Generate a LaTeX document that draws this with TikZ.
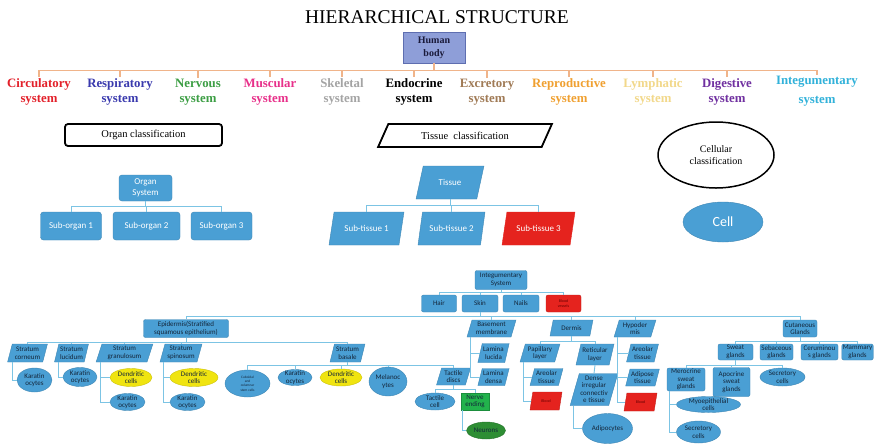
\documentclass[tikz,border=0pt]{standalone}
\usepackage{fontspec}
\setmainfont{Liberation Serif}
\newfontfamily\calibri{Carlito}
\usetikzlibrary{positioning,shapes.geometric}
\definecolor{bodyfill}{HTML}{8E9ED8}
\definecolor{bodyedge}{HTML}{5E6EB0}
\definecolor{bodytext}{HTML}{1A1A3A}
\definecolor{sysorange}{HTML}{F0B48A}
\definecolor{syscirc}{HTML}{E3202A}
\definecolor{sysresp}{HTML}{3A3AAE}
\definecolor{sysnerv}{HTML}{3C9E44}
\definecolor{sysmusc}{HTML}{E8308A}
\definecolor{sysskel}{HTML}{A4A4A4}
\definecolor{sysexcr}{HTML}{A07A55}
\definecolor{sysrepr}{HTML}{F0A030}
\definecolor{syslymp}{HTML}{F2D88A}
\definecolor{sysdige}{HTML}{7030A0}
\definecolor{sysinte}{HTML}{32B2DA}
\definecolor{cellblue}{HTML}{4A9FD4}
\definecolor{linkblue}{HTML}{7CC4E4}
\definecolor{cellred}{HTML}{E5231E}
\definecolor{dendyellow}{HTML}{F0E410}
\definecolor{nervegreen}{HTML}{22B24C}
\definecolor{neurgreen}{HTML}{2E8E34}
\definecolor{leaftext}{HTML}{14263A}

\begin{document}
\begin{tikzpicture}[x=1pt, y=-1pt,
  sysname/.style={font=\bfseries\fontsize{12.8}{15}\selectfont, align=center, inner sep=1pt},
  sysline/.style={draw=sysorange, line width=1.4pt},
  bodybox/.style={fill=bodyfill, draw=bodyedge, line width=0.8pt, align=center, text=bodytext, font=\bfseries\fontsize{10}{13}\selectfont},
  headbox/.style={draw=black, line width=1.8pt, align=center, font=\fontsize{10.5}{12}\selectfont},
  bigbox/.style={fill=cellblue, draw=cellblue!85!black, rounded corners=3pt, align=center, text=white, font=\calibri\fontsize{9}{10.5}\selectfont},
  bigpar/.style={bigbox, sharp corners, trapezium, trapezium left angle=73, trapezium right angle=107, trapezium stretches=true},
  leaf/.style={fill=cellblue, draw=cellblue!85!black, rounded corners=2pt, align=center, text=leaftext, font=\calibri\fontsize{7}{7.5}\selectfont, inner xsep=1pt, inner ysep=0.5pt},
  leafpar/.style={leaf, sharp corners, trapezium, trapezium left angle=72, trapezium right angle=108, trapezium stretches=true},
  leafell/.style={leaf, ellipse, inner xsep=0pt, inner ysep=-2pt},
  redpar/.style={leafpar, fill=cellred, draw=cellred!85!black, text=red!40!black, font=\calibri\fontsize{4}{5}\selectfont},
  yell/.style={leafell, fill=dendyellow, draw=dendyellow!85!black},
  link/.style={draw=linkblue, line width=0.9pt}
]
\fill[white] (0,0) rectangle (874,445);
\useasboundingbox (0,0) rectangle (874,445);

% top level
\node[font=\fontsize{19.5}{22}\selectfont] (title) at (437,17.5) {HIERARCHICAL STRUCTURE};
\node[bodybox, minimum width=62, minimum height=31] (body) at (434,47.5) {Human\\body};

\node[sysname, text=syscirc] (circ) at (39,92) {Circulatory\\system};
\node[sysname, text=sysresp] (resp) at (120,92) {Respiratory\\system};
\node[sysname, text=sysnerv] (nerv) at (198,92) {Nervous\\system};
\node[sysname, text=sysmusc] (musc) at (270,92) {Muscular\\system};
\node[sysname, text=sysskel] (skel) at (342,92) {Skeletal\\system};
\node[sysname, text=black] (endo) at (414,92) {Endocrine\\system};
\node[sysname, text=sysexcr] (excr) at (487,92) {Excretory\\system};
\node[sysname, text=sysrepr] (repr) at (569,92) {Reproductive\\system};
\node[sysname, text=syslymp] (lymp) at (653,92) {Lymphatic\\system};
\node[sysname, text=sysdige] (dige) at (727,92) {Digestive\\system};
\node[sysname, text=sysinte, font=\bfseries\fontsize{12.8}{19}\selectfont] (inte) at (817,91) {Integumentary\\system};

\draw[sysline] (body.south) -- ++(0,7) -| (circ.north);
\draw[sysline] (body.south) -- ++(0,7) -| (resp.north);
\draw[sysline] (body.south) -- ++(0,7) -| (nerv.north);
\draw[sysline] (body.south) -- ++(0,7) -| (musc.north);
\draw[sysline] (body.south) -- ++(0,7) -| (skel.north);
\draw[sysline] (body.south) -- ++(0,7) -| (endo.north);
\draw[sysline] (body.south) -- ++(0,7) -| (excr.north);
\draw[sysline] (body.south) -- ++(0,7) -| (repr.north);
\draw[sysline] (body.south) -- ++(0,7) -| (lymp.north);
\draw[sysline] (body.south) -- ++(0,7) -| (dige.north);
\draw[sysline] (body.south) -- ++(0,7) -| (inte.north);

% three ways of classifying
\node[headbox, rounded corners=3pt, minimum width=157, minimum height=22] (organcls) at (143.5,135) {Organ classification};
\node[headbox, trapezium, trapezium left angle=66, trapezium right angle=114, trapezium stretches=true, minimum width=174, minimum height=23] (tissuecls) at (465,135.5) {Tissue\ \ classification};
\node[headbox, ellipse, line width=1.5pt, minimum width=116, minimum height=66, font=\fontsize{10}{12}\selectfont] (cellcls) at (716,155) {Cellular\\classification};

\node[bigbox, minimum width=53, minimum height=26] (orgsys) at (145.5,188) {Organ\\System};
\node[bigbox, minimum width=61, minimum height=28] (sorg1) at (71,226) {Sub-organ 1};
\node[bigbox, minimum width=67, minimum height=28] (sorg2) at (146.5,226) {Sub-organ 2};
\node[bigbox, minimum width=61, minimum height=28] (sorg3) at (221.5,226) {Sub-organ 3};
\draw[link] (orgsys.south) -- ++(0,5) -| (sorg1.north);
\draw[link] (orgsys.south) -- ++(0,5) -| (sorg2.north);
\draw[link] (orgsys.south) -- ++(0,5) -| (sorg3.north);

\node[bigpar, minimum width=68, minimum height=33] (tissue) at (450,182.5) {Tissue};
\node[bigpar, minimum width=75, minimum height=33] (stis1) at (366.5,228.5) {Sub-tissue 1};
\node[bigpar, minimum width=67, minimum height=33] (stis2) at (451.5,228.5) {Sub-tissue 2};
\node[bigpar, fill=cellred, draw=cellred, minimum width=73, minimum height=33] (stis3) at (538.5,228.5) {Sub-tissue 3};
\draw[link] (tissue.south) -- ++(0,6) -| (stis1.north);
\draw[link] (tissue.south) -- ++(0,6) -| (stis2.north);
\draw[link] (tissue.south) -- ++(0,6) -| (stis3.north);

\node[bigbox, ellipse, minimum width=80, minimum height=40, font=\calibri\fontsize{14}{16}\selectfont] (cell) at (723,222) {Cell};

% integumentary system tree
\node[leaf, minimum width=52, minimum height=19] (integ) at (501,280) {Integumentary\\System};
\node[leaf, minimum width=35, minimum height=17] (hair) at (439,303.5) {Hair};
\node[leaf, minimum width=36, minimum height=17] (skin) at (480,303.5) {Skin};
\node[leaf, minimum width=36, minimum height=17] (nails) at (521,303.5) {Nails};
\node[leaf, fill=cellred, draw=cellred!85!black, text=red!40!black, font=\calibri\fontsize{4}{5}\selectfont, minimum width=35, minimum height=17] (vessel) at (563.5,303.5) {Blood\\vessels};
\draw[link] (integ.south) -- ++(0,2.5) -| (hair.north);
\draw[link] (integ.south) -- ++(0,2.5) -| (skin.north);
\draw[link] (integ.south) -- ++(0,2.5) -| (nails.north);
\draw[link] (integ.south) -- ++(0,2.5) -| (vessel.north);

\node[leaf, minimum width=85, minimum height=18] (epi) at (186,328.5) {Epidermis(Stratified\\squamous epithelium)};
\node[leafpar, minimum width=49, minimum height=17] (basem) at (491.5,328.5) {Basement\\membrane};
\node[leafpar, minimum width=43, minimum height=16] (dermis) at (571.5,328) {Dermis};
\node[leafpar, minimum width=42, minimum height=17] (hypo) at (635,328.5) {Hypoder\\mis};
\node[leaf, minimum width=34, minimum height=17] (glands) at (800,328.5) {Cutaneous\\Glands};
\draw[link] (skin.south) -- ++(0,4.5) -| (epi.north);
\draw[link] (skin.south) -- ++(0,4.5) -| (basem.north);
\draw[link] (skin.south) -- ++(0,4.5) -| (dermis.north);
\draw[link] (skin.south) -- ++(0,4.5) -| (hypo.north);
\draw[link] (skin.south) -- ++(0,4.5) -| (glands.north);

% epidermis layers
\node[leafpar, minimum width=40, minimum height=18] (corn) at (27.5,353) {Stratum\\corneum};
\node[leafpar, minimum width=34, minimum height=18] (luci) at (71.5,353) {Stratum\\lucidum};
\node[leafpar, minimum width=57, minimum height=18] (gran) at (124.5,353) {Stratum\\granulosum};
\node[leafpar, minimum width=42, minimum height=18] (spin) at (181,353) {Stratum\\spinosum};
\node[leafpar, minimum width=35, minimum height=18] (basal) at (347.5,353) {Stratum\\basale};
\draw[link] (epi.south) -- ++(0,4.5) -| (corn.north);
\draw[link] (epi.south) -- ++(0,4.5) -| (luci.north);
\draw[link] (epi.south) -- ++(0,4.5) -| (gran.north);
\draw[link] (epi.south) -- ++(0,4.5) -| (spin.north);
\draw[link] (epi.south) -- ++(0,4.5) -| (basal.north);

\node[leafell, minimum width=35, minimum height=24] (kera1) at (34.5,380) {Karatin\\ocytes};
\node[leafell, minimum width=34, minimum height=19] (kera2) at (80,377) {Karatin\\ocytes};
\node[yell, minimum width=42, minimum height=18] (dend1) at (131,377.5) {Dendritic\\cells};
\node[leafell, minimum width=35, minimum height=17] (kera3) at (127.5,402) {Karatin\\ocytes};
\node[yell, minimum width=48, minimum height=18] (dend2) at (194,377.5) {Dendritic\\cells};
\node[leafell, minimum width=35, minimum height=17] (kera4) at (187.5,402) {Karatin\\ocytes};
\draw[link] ([xshift=5]corn.bottom left corner) |- (kera1.west);
\draw[link] ([xshift=4]luci.bottom left corner) |- (kera2.west);
\draw[link] ([xshift=5]gran.bottom left corner) |- (dend1.west);
\draw[link] ([xshift=5]gran.bottom left corner) |- (kera3.west);
\draw[link] ([xshift=4]spin.bottom left corner) |- (dend2.west);
\draw[link] ([xshift=4]spin.bottom left corner) |- (kera4.west);

\node[leafell, minimum width=45, minimum height=27, font=\calibri\fontsize{3.5}{4.2}\selectfont] (stem) at (247.5,383.5) {Cuboidal\\and\\columnar\\stem cells};
\node[leafell, minimum width=34, minimum height=16] (kera5) at (295,377.5) {Karatin\\ocytes};
\node[yell, minimum width=42, minimum height=17] (dend3) at (341,377.5) {Dendritic\\cells};
\node[leafell, minimum width=38, minimum height=29] (melano) at (388,381.5) {Melanoc\\ytes};
\node[leafpar, minimum width=34, minimum height=17] (tactile) at (453.5,376.5) {Tactile\\discs};
\draw[link] (basal.south) -- ++(0,3) -| (stem.north);
\draw[link] (basal.south) -- ++(0,3) -| (kera5.north);
\draw[link] (basal.south) -- ++(0,3) -| (dend3.north);
\draw[link] (basal.south) -- ++(0,3) -| (melano.north);
\draw[link] (basal.south) -- ++(0,3) -| (tactile.north);

\node[leafell, minimum width=40, minimum height=17] (tcell) at (435,401.5) {Tactile\\cell};
\node[leaf, sharp corners, fill=nervegreen, draw=nervegreen!80!black, minimum width=28, minimum height=17] (nerve) at (475,401.5) {Nerve\\ending};
\node[leafell, fill=neurgreen, draw=neurgreen!80!black, minimum width=39, minimum height=17] (neuron) at (486,430.5) {Neurons};
\draw[link] (tactile.south) -- ++(0,4.5) -| (tcell.north);
\draw[link] (tactile.south) -- ++(0,4.5) -| (nerve.north);
\draw[link] ([xshift=2]nerve.south west) |- (neuron.west);

% basement membrane, dermis, hypodermis
\node[leafpar, minimum width=31, minimum height=19] (lucida) at (493.5,353) {Lamina\\lucida};
\node[leafpar, minimum width=30, minimum height=17] (densa) at (493.5,377) {Lamina\\densa};
\draw[link] ([xshift=4]basem.bottom left corner) |- (lucida.west);
\draw[link] ([xshift=4]basem.bottom left corner) |- (densa.west);

\node[leafpar, minimum width=40, minimum height=18] (papil) at (540,353) {Papillary\\layer};
\node[leafpar, minimum width=38, minimum height=21] (retic) at (595,354.5) {Reticular\\layer};
\draw[link] (dermis.south) -- ++(0,5.5) -| (papil.north);
\draw[link] (dermis.south) -- ++(0,5.5) -| (retic.north);

\node[leafpar, minimum width=33, minimum height=17] (areo1) at (546.5,377) {Areolar\\tissue};
\node[redpar, minimum width=32, minimum height=18] (blood1) at (546,401) {Blood};
\draw[link] ([xshift=4]papil.bottom left corner) |- (areo1.west);
\draw[link] ([xshift=4]papil.bottom left corner) |- (blood1.west);

\node[leafpar, minimum width=43, minimum height=32] (dense) at (594,389.5) {Dense\\irregular\\connectiv\\e tissue};
\node[leafell, minimum width=50, minimum height=30] (adipo) at (607.5,428.5) {Adipocytes};
\draw[link] (retic.south) -- (dense.north);
\draw[link] ([xshift=4]dense.bottom left corner) |- (adipo.west);

\node[leafpar, minimum width=32, minimum height=18] (areo2) at (642.5,353) {Areolar\\tissue};
\node[leafpar, minimum width=32, minimum height=17] (adipt) at (642.5,377.5) {Adipose\\tissue};
\node[redpar, minimum width=33, minimum height=18] (blood2) at (640.5,402) {Blood};
\draw[link] ([xshift=4]hypo.bottom left corner) |- (areo2.west);
\draw[link] ([xshift=4]hypo.bottom left corner) |- (adipt.west);
\draw[link] ([xshift=4]hypo.bottom left corner) |- (blood2.west);

% glands
\node[leaf, minimum width=35, minimum height=16] (sweat) at (735.5,352) {Sweat\\glands};
\node[leaf, minimum width=33, minimum height=16] (sebac) at (776.5,352) {Sebaceous\\glands};
\node[leaf, minimum width=37, minimum height=16] (cerum) at (819.5,352) {Ceruminou\\s glands};
\node[leaf, minimum width=31, minimum height=16] (mamm) at (857.5,352) {Mammary\\glands};
\draw[link] (glands.south) -- ++(0,4.5) -| (sweat.north);
\draw[link] (glands.south) -- ++(0,4.5) -| (sebac.north);
\draw[link] (glands.south) -- ++(0,4.5) -| (cerum.north);
\draw[link] (glands.south) -- ++(0,4.5) -| (mamm.north);

\node[leaf, minimum width=38, minimum height=23] (mero) at (686,379.5) {Merocrine\\sweat\\glands};
\node[leaf, minimum width=37, minimum height=29] (apoc) at (731.5,382) {Apocrine\\sweat\\glands};
\node[leafell, minimum width=45, minimum height=18] (secr1) at (782.5,377) {Secretory\\cells};
\draw[link] (sweat.south) -- ++(0,5) -| (mero.north);
\draw[link] (sweat.south) -- ++(0,5) -| (apoc.north);
\draw[link] (sweat.south) -- ++(0,5) -| (secr1.north);

\node[leafell, minimum width=64, minimum height=16] (myo) at (708.5,404.5) {Myoepithelial\\cells};
\node[leafell, minimum width=44, minimum height=22] (secr2) at (698.5,432) {Secretory\\cells};
\draw[link] ([xshift=3]mero.south west) |- (myo.west);
\draw[link] ([xshift=3]mero.south west) |- (secr2.west);
\end{tikzpicture}
\end{document}
